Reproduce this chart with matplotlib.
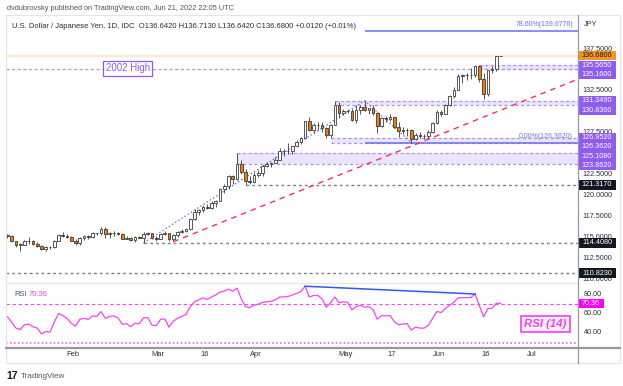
import matplotlib.pyplot as plt
from matplotlib.patches import Rectangle
import numpy as np
import pandas as pd

plt.rcParams['font.family'] = ['Liberation Sans', 'DejaVu Sans']

W, H = 623, 386

# daily bars, USD/JPY (IDC)
dates = pd.bdate_range('2022-01-11', '2022-06-22')
opens = [115.28, 115.27, 114.65, 114.19, 114.20, 114.59, 114.61, 114.32, 114.09, 113.68,
         113.98, 113.88, 114.66, 115.35, 115.26, 115.11, 114.70, 114.37, 114.98, 115.25,
         115.11, 115.55, 115.54, 116.03, 115.42, 115.58, 115.64, 115.47, 114.93, 115.00,
         114.75, 115.06, 115.02, 115.52, 115.55, 114.98, 114.93, 115.48, 115.54, 114.82,
         115.31, 115.68, 115.86, 116.12, 117.29, 118.15, 118.30, 118.74, 118.59, 119.17,
         119.45, 120.80, 121.18, 122.34, 122.05, 123.86, 122.84, 121.82, 121.70, 122.53,
         122.78, 123.62, 123.78, 123.96, 124.33, 125.35, 125.35, 125.38, 125.93, 126.44,
         126.96, 128.89, 127.86, 128.40, 128.50, 128.09, 127.21, 128.46, 130.82, 129.84,
         130.16, 130.12, 129.10, 130.19, 130.55, 130.27, 130.45, 129.93, 128.34, 129.24,
         129.18, 129.36, 128.24, 127.78, 127.87, 127.91, 126.84, 127.32, 127.11, 127.12,
         127.58, 128.70, 130.05, 129.82, 130.87, 131.88, 132.64, 134.24, 134.39, 134.39,
         134.40, 135.46, 133.96, 132.20, 134.98, 135.07, 136.642]
highs = [115.42, 115.35, 114.70, 114.35, 114.78, 115.06, 114.74, 114.50, 114.20, 114.02,
         114.10, 114.72, 115.50, 115.68, 115.53, 115.20, 114.82, 115.10, 115.40, 115.35,
         115.67, 115.63, 116.34, 116.25, 115.75, 115.82, 115.73, 115.55, 115.18, 115.10,
         115.20, 115.25, 115.75, 115.76, 115.65, 115.27, 115.55, 115.80, 115.56, 115.47,
         115.80, 116.05, 116.20, 117.35, 118.40, 118.45, 118.90, 119.10, 119.40, 119.50,
         120.95, 121.40, 122.45, 122.45, 125.09, 124.30, 123.20, 122.40, 122.90, 123.05,
         123.70, 124.00, 124.05, 124.70, 125.75, 125.60, 126.30, 126.00, 126.68, 127.05,
         128.98, 129.40, 128.70, 128.80, 128.85, 128.25, 128.60, 131.25, 131.15, 130.30,
         130.35, 130.40, 130.80, 130.85, 131.35, 130.50, 130.80, 130.00, 129.40, 129.55,
         129.80, 129.45, 128.80, 128.20, 128.10, 127.95, 127.50, 127.60, 127.35, 127.80,
         128.85, 130.20, 130.25, 131.00, 132.00, 133.00, 134.50, 134.55, 134.60, 135.20,
         135.59, 135.59, 134.70, 135.00, 135.43, 136.71, 136.713]
lows = [114.95, 114.53, 113.95, 113.48, 114.15, 114.30, 114.12, 113.95, 113.62, 113.47,
        113.63, 113.80, 114.60, 115.10, 114.98, 114.63, 114.17, 114.15, 114.75, 114.93,
        115.00, 115.30, 115.36, 115.02, 114.97, 115.28, 115.35, 114.85, 114.82, 114.62,
        114.52, 114.95, 114.41, 115.30, 114.85, 114.70, 114.85, 115.40, 114.65, 114.65,
        115.15, 115.58, 115.75, 116.00, 117.10, 117.70, 118.10, 118.40, 118.50, 118.70,
        119.40, 120.40, 120.85, 121.40, 121.95, 122.60, 121.32, 121.45, 121.50, 122.30,
        122.40, 123.45, 123.50, 123.90, 124.25, 124.75, 125.00, 125.00, 125.85, 126.20,
        126.85, 127.70, 127.50, 127.90, 127.60, 126.95, 126.95, 128.40, 129.30, 129.65,
        129.85, 128.95, 128.70, 129.80, 130.10, 129.80, 129.60, 127.52, 128.20, 128.80,
        128.90, 128.10, 127.03, 127.40, 127.10, 126.36, 126.65, 126.85, 126.80, 126.95,
        127.50, 128.60, 129.50, 129.80, 130.70, 131.70, 132.60, 133.50, 133.80, 133.90,
        134.20, 133.55, 131.49, 131.90, 134.65, 134.85, 136.642]
closes = [115.27, 114.65, 114.19, 114.20, 114.59, 114.61, 114.32, 114.09, 113.68, 113.98,
          113.88, 114.66, 115.35, 115.26, 115.11, 114.70, 114.37, 114.98, 115.25, 115.11,
          115.55, 115.54, 116.03, 115.42, 115.58, 115.64, 115.47, 114.93, 115.00, 114.75,
          115.06, 115.02, 115.52, 115.55, 114.98, 114.93, 115.48, 115.54, 114.82, 115.31,
          115.68, 115.86, 116.12, 117.29, 118.15, 118.30, 118.74, 118.59, 119.17, 119.45,
          120.80, 121.18, 122.34, 122.05, 123.86, 122.84, 121.82, 121.70, 122.53, 122.78,
          123.62, 123.78, 123.96, 124.33, 125.35, 125.35, 125.38, 125.93, 126.44, 126.96,
          128.89, 127.86, 128.40, 128.50, 128.09, 127.21, 128.46, 130.82, 129.84, 130.16,
          130.12, 129.10, 130.19, 130.55, 130.27, 130.45, 129.93, 128.34, 129.24, 129.18,
          129.36, 128.24, 127.78, 127.87, 127.91, 126.84, 127.32, 127.11, 127.12, 127.58,
          128.70, 130.05, 129.82, 130.87, 131.88, 132.64, 134.24, 134.39, 134.39, 134.40,
          135.46, 133.96, 132.20, 134.98, 135.07, 136.67, 136.680]
rsi_vals = [56.7, 51.0, 45.0, 43.5, 48.5, 49.0, 46.5, 45.0, 39.0, 41.5,
            41.0, 51.0, 60.0, 58.0, 55.0, 50.0, 47.0, 54.0, 55.0, 54.0,
            57.5, 57.0, 62.0, 55.0, 57.0, 57.5, 55.5, 49.0, 49.5, 46.5,
            50.0, 49.5, 55.5, 55.8, 48.0, 47.5, 54.0, 54.5, 46.0, 52.0,
            55.0, 57.0, 59.0, 67.0, 72.0, 74.0, 76.0, 74.5, 77.0, 79.0,
            82.0, 83.0, 85.0, 83.0, 86.0, 75.0, 67.0, 66.0, 68.5, 69.5,
            71.5, 72.0, 72.5, 74.0, 77.0, 77.0, 77.5, 79.0, 80.5, 82.5,
            88.0, 77.0, 78.5, 78.5, 75.0, 66.5, 71.0, 77.0, 71.0, 72.0,
            71.5, 63.6, 67.0, 68.5, 66.5, 67.0, 64.0, 54.0, 58.0, 57.5,
            58.0, 51.5, 48.6, 49.2, 49.6, 43.0, 46.0, 45.0, 45.0, 48.0,
            55.0, 62.0, 61.0, 65.0, 68.5, 71.5, 76.0, 76.3, 76.3, 76.4,
            80.0, 68.0, 56.7, 65.0, 65.5, 70.6, 70.36]

# drawn levels
zones = [  # (low, high, start date)
    (135.160, 135.565, '2022-06-15'),
    (130.836, 131.349, '2022-04-28'),
    (126.362, 126.952, '2022-04-27'),
    (123.862, 125.108, '2022-03-28'),
]
grey_levels = [(121.317, '2022-03-30'), (114.408, '2022-02-24'), (110.823, None)]
high_2002 = 135.160
last_price = 136.680
fib_pts = [('2022-02-24', 114.408), ('2022-05-09', 131.349), ('2022-05-24', 126.362)]
fib_levels = [(0.786, '78.60%(139.6776)'), (0.0, '0.00%(126.3620)')]
trend_red = [('2022-03-07', 114.55), ('2022-06-16', 129.40)]
div_dates = ['2022-04-19', '2022-06-14']
price_ticks = [137.5, 135.0, 132.5, 130.0, 127.5, 125.0, 122.5, 120.0, 117.5, 115.0, 112.5, 110.0]
rsi_ticks = [80, 60, 40]
month_ticks = [('2022-02-01', 'Feb'), ('2022-03-01', 'Mar'), ('2022-03-16', '16'),
               ('2022-04-01', 'Apr'), ('2022-05-02', 'May'), ('2022-05-17', '17'),
               ('2022-06-01', 'Jun'), ('2022-06-16', '16'), ('2022-07-01', 'Jul')]


def bar_idx(d):
    return len(pd.bdate_range(dates[0], d)) - 1


PURPLE = '#8e5cf3'
ZONE = '#ebe4fd'
ZLINE = '#ad93f7'
FIB = '#6a6ff2'
MAG = '#f545f5'
DARK = '#3a3a3a'

fig = plt.figure(figsize=(W / 100, H / 100), dpi=100)


def box(x0, y0, x1, y1):
    return [x0 / W, 1 - y1 / H, (x1 - x0) / W, (y1 - y0) / H]


ax = fig.add_axes(box(6, 17, 578, 283))
rs = fig.add_axes(box(6, 283, 578, 348), sharex=ax)
sc = fig.add_axes(box(578, 17, 623, 283))
rsc = fig.add_axes(box(578, 283, 623, 348))

x = np.arange(len(dates))
o, h, l, c = map(np.array, (opens, highs, lows, closes))
XMAX = 134.2
ax.set_xlim(-0.35, XMAX)
ax.set_ylim(109.64, 141.31)
rs.set_ylim(24.6, 91.3)
for a in (ax, rs, sc, rsc):
    a.set_axis_off()
sc.set_ylim(ax.get_ylim())
sc.set_xlim(0, 45)
rsc.set_ylim(rs.get_ylim())
rsc.set_xlim(0, 45)

# levels
ax.axhline(last_price, color='#fde8d2', lw=1.6, zorder=1)
ax.axhline(high_2002, color=ZLINE, lw=0.9, ls=(0, (2.5, 2)), zorder=2)
for lo, hi, d in zones:
    s = bar_idx(d)
    ax.fill_between([s, XMAX], lo, hi, color=ZONE, lw=0, zorder=1)
    ax.hlines([lo, hi], s, XMAX, colors=ZLINE, lw=0.9, linestyles=(0, (2.5, 2)), zorder=2)
for lv, d in grey_levels:
    s = bar_idx(d) if d else -0.35
    ax.hlines(lv, s, XMAX, colors='#7b7e88', lw=1.0, linestyles=(0, (2, 2.2)), zorder=2)

# fib extension
fx = [bar_idx(d) for d, _ in fib_pts]
fy = [p for _, p in fib_pts]
ax.plot(fx, fy, color=FIB, lw=0.9, ls=(0, (1.2, 1.8)), zorder=3)
rng = fy[1] - fy[0]
for r, lab in fib_levels:
    lv = fy[2] + r * rng
    ax.hlines(lv, fx[1], XMAX, colors=FIB, lw=1.1, zorder=3)
    ax.text(XMAX - 1.2, lv + 0.35, lab, color=FIB, fontsize=5.0, ha='right', va='bottom', zorder=6)

# red trendline, extended to the right edge
tx = [bar_idx(d) for d, _ in trend_red]
ty = [p for _, p in trend_red]
slope = (ty[1] - ty[0]) / (tx[1] - tx[0])
ax.plot([tx[0], XMAX], [ty[0], ty[0] + slope * (XMAX - tx[0])],
        color='#f2364a', lw=1.0, ls=(0, (4, 3.5)), zorder=3)

# candles
up = c >= o
ax.vlines(x, l, h, color=DARK, lw=0.6, zorder=4)
body_lo = np.minimum(o, c)
body_h = np.maximum(np.abs(c - o), 0.04)
ax.bar(x, body_h, 0.62, bottom=body_lo, color=np.where(up, 'white', '#f57c00'),
       edgecolor=DARK, linewidth=0.6, zorder=5)

ax.text(bar_idx('2022-02-18') + 0.3, high_2002 + 0.05, '2002 High', color=PURPLE, fontsize=7,
        ha='center', va='center', zorder=7,
        bbox=dict(boxstyle='square,pad=0.25', fc='white', ec=PURPLE, lw=0.9))

# RSI
rs.plot(x, rsi_vals, color=MAG, lw=0.9, zorder=3)
rs.axhline(70, color=MAG, lw=0.8, ls=(0, (3, 2.5)))
rs.axhline(30, color=MAG, lw=1.1, ls=(0, (1, 1.6)))
di = [bar_idx(d) for d in div_dates]
rs.plot(di, [rsi_vals[i] for i in di], color='#3456f0', lw=1.1, zorder=4)
rs.text(0.015, 0.83, 'RSI', transform=rs.transAxes, fontsize=5.5, color='#50535e', va='center')
rs.text(0.04, 0.83, f'{rsi_vals[-1]:.2f}', transform=rs.transAxes, fontsize=5.5, color=MAG, va='center')
rs.text(0.943, 0.37, 'RSI (14)', transform=rs.transAxes, fontsize=8.2, color='#f53cf5',
        weight='bold', style='italic', ha='center', va='center',
        bbox=dict(boxstyle='square,pad=0.3', fc='#fff0ff', ec='#f53cf5', lw=1.2))

# price scale: tags pushed apart like the platform does
ppx = (ax.get_ylim()[1] - ax.get_ylim()[0]) / 266
TAG_H = 9.2
tags = [(last_price, '#f7941d', '#131722')] + \
       [(v, PURPLE, 'white') for lo, hi, _ in zones for v in (hi, lo)]
tags.sort(key=lambda t: -t[0])
placed = []
prev = None
for v, bg, fg in tags:
    y = v if prev is None or v <= prev - 9.4 * ppx else prev - 9.4 * ppx
    prev = y
    placed.append((y, v, bg, fg))
placed += [(v, v, '#131722', 'white') for v, _ in grey_levels]


def visible_part(t):
    # share of a tick label (7 px tall) not covered by any tag
    lo, hi = t - 3.5 * ppx, t + 3.5 * ppx
    covered = np.zeros(50, bool)
    ys = np.linspace(lo, hi, 50)
    for y, *_ in placed:
        covered |= np.abs(ys - y) <= TAG_H / 2 * ppx
    return 1 - covered.mean()


for t in price_ticks:
    if visible_part(t) < 0.4:
        continue  # hidden behind the tags
    sc.text(19, t, f'{t:.4f}', fontsize=5.2, color='#2a2e39', ha='center', va='center', zorder=1)
sc.text(13, ax.get_ylim()[1] - 7 * ppx, 'JPY', fontsize=5.2, color='#2a2e39', ha='center', va='center')
for y, v, bg, fg in placed:
    sc.add_patch(Rectangle((0.5, y - TAG_H / 2 * ppx), 37, TAG_H * ppx, fc=bg, ec='none', zorder=3))
    sc.text(19, y, f'{v:.4f}', fontsize=5.2, color=fg, ha='center', va='center', zorder=4)

rpx = (rs.get_ylim()[1] - rs.get_ylim()[0]) / 65
for t in rsi_ticks:
    rsc.text(15, t, f'{t:.2f}', fontsize=5.2, color='#2a2e39', ha='center', va='center')
rsc.add_patch(Rectangle((0.5, rsi_vals[-1] - TAG_H / 2 * rpx), 25, TAG_H * rpx, fc='#ff00ff', ec='none', zorder=3))
rsc.text(13, rsi_vals[-1], f'{rsi_vals[-1]:.2f}', fontsize=5.2, color='white', ha='center', va='center', zorder=4)

# time axis
for d, lab in month_ticks:
    xd = ax.transData.transform((bar_idx(d) + 0.4, 0))[0]
    fig.text(xd / W, 1 - 355 / H, lab, fontsize=5.4, color='#2a2e39', ha='center', va='center')

# frame and separators
lines = [((6, 620), (15, 15), '#e3e5ea', 0.8), ((6, 6), (15, 363), '#e3e5ea', 0.8),
         ((6, 620), (363, 363), '#e3e5ea', 0.8), ((620, 620), (15, 363), '#e3e5ea', 0.8),
         ((6, 578), (283, 283), '#e6e8ee', 1.0), ((6, 620), (348, 348), '#9598a1', 1.6),
         ((578, 578), (15, 363), '#9598a1', 0.9)]
for xs, ys, col, lw in lines:
    fig.add_artist(plt.Line2D([v / W for v in xs], [1 - v / H for v in ys], color=col, lw=lw))

fig.text(7 / W, 1 - 9 / H, 'dvdubrovsky published on TradingView.com, Jun 21, 2022 22:05 UTC',
         fontsize=5.3, color='#50535e', va='center')
fig.text(12 / W, 1 - 27 / H,
         'U.S. Dollar / Japanese Yen, 1D, IDC  O136.6420 H136.7130 L136.6420 C136.6800 +0.0120 (+0.01%)',
         fontsize=5.5, color='#2a2e39', va='center')
fig.text(6 / W, 1 - 376 / H, '17', fontsize=7.5, weight='bold', color='#131722', va='center')
fig.text(21 / W, 1 - 376 / H, 'TradingView', fontsize=5.8, color='#50535e', va='center')

fig.savefig('out.png', dpi=100)
